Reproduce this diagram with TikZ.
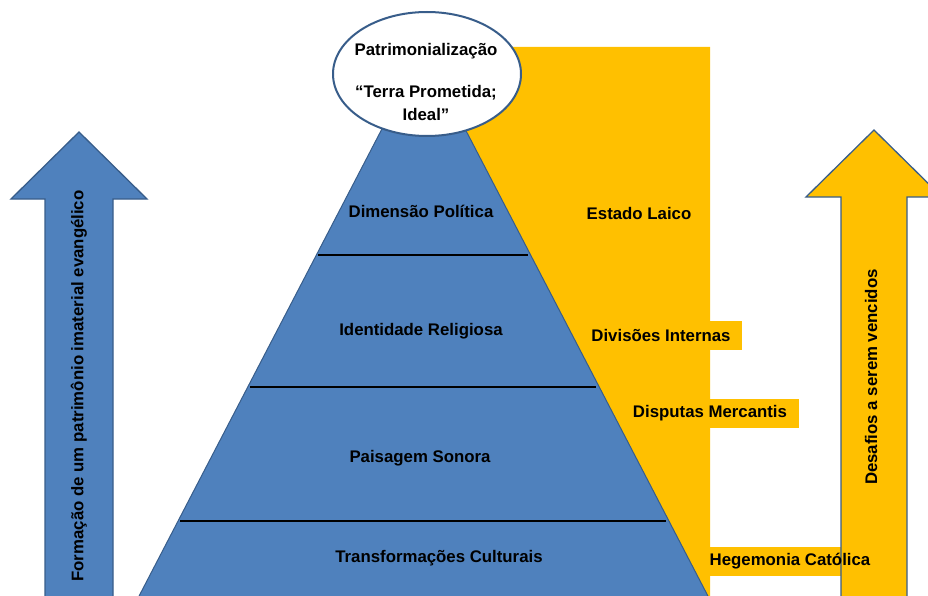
\documentclass[tikz,border=0pt]{standalone}
\usepackage{fontspec}
\setmainfont{Liberation Sans}
\usetikzlibrary{calc}
\definecolor{pyrblue}{HTML}{4F81BD}
\definecolor{edgeblue}{HTML}{385D8A}
\definecolor{gold}{HTML}{FFC000}
\begin{document}
\begin{tikzpicture}[x=1pt,y=-1pt,
  lbl/.style={font=\fontsize{16.8}{20}\selectfont\bfseries, inner sep=0pt, text=black},
  sep/.style={line width=1.6pt, black, shorten <=2pt, shorten >=3pt},
  shapeedge/.style={draw=edgeblue, line width=1.3pt, line join=miter}]
\useasboundingbox (0,0) rectangle (928,596);
\clip (0,0) rectangle (928,596);

% pyramid corners
\coordinate (A) at (423.5,49);
\coordinate (BL) at (137,600);
\coordinate (BR) at (710,600);

% yellow band to the right of the pyramid, with its label tabs
\fill[gold] (423.5,47) -- (710,47) -- (710,600) -- (600,600) -- cycle;
\fill[gold] (650,321) rectangle (742,350);
\fill[gold] (650,399) rectangle (799,428);
\fill[gold] (700,547) rectangle (845,576);

% left arrow
\filldraw[fill=pyrblue, shapeedge] (45,605) -- (45,199) -- (11,199) -- (79,132)
  -- (147,199) -- (113,199) -- (113,605);
% right arrow
\filldraw[fill=gold, shapeedge] (841,605) -- (841,197) -- (806,197) -- (874,130)
  -- (942,197) -- (907,197) -- (907,605);

% pyramid and its layer separators
\filldraw[fill=pyrblue, draw=edgeblue, line width=1pt] (A) -- (BR) -- (BL) -- cycle;
\draw[sep] ($(A)!0.3739!(BL)$) -- ($(A)!0.3739!(BR)$);
\draw[sep] ($(A)!0.6134!(BL)$) -- ($(A)!0.6134!(BR)$);
\draw[sep] ($(A)!0.8566!(BL)$) -- ($(A)!0.8566!(BR)$);

% top ellipse
\filldraw[fill=white, draw=edgeblue, line width=2pt] (427,74) ellipse [x radius=94, y radius=62];
\node[lbl] (patr) at (426,51) {Patrimonialização};
\node[lbl] (terra) at (426,93) {“Terra Prometida;};
\node[lbl] (ideal) at (426,114) {Ideal”};

% pyramid layer labels
\node[lbl] (pol) at (421,211) {Dimensão Política};
\node[lbl] (ident) at (421,331) {Identidade Religiosa};
\node[lbl] (pais) at (420,458) {Paisagem Sonora};
\node[lbl] (transf) at (439,558) {Transformações Culturais};

% challenge labels
\node[lbl] (laico) at (639,213) {Estado Laico};
\node[lbl] (divis) at (661,335) {Divisões Internas};
\node[lbl] (disp) at (710,413) {Disputas Mercantis};
\node[lbl] (hegem) at (790,561) {Hegemonia Católica};

% arrow captions
\node[lbl, rotate=90] (form) at (79,386) {Formação de um patrimônio imaterial evangélico};
\node[lbl, rotate=90] (desaf) at (871,377) {Desafios a serem vencidos};
\end{tikzpicture}
\end{document}
